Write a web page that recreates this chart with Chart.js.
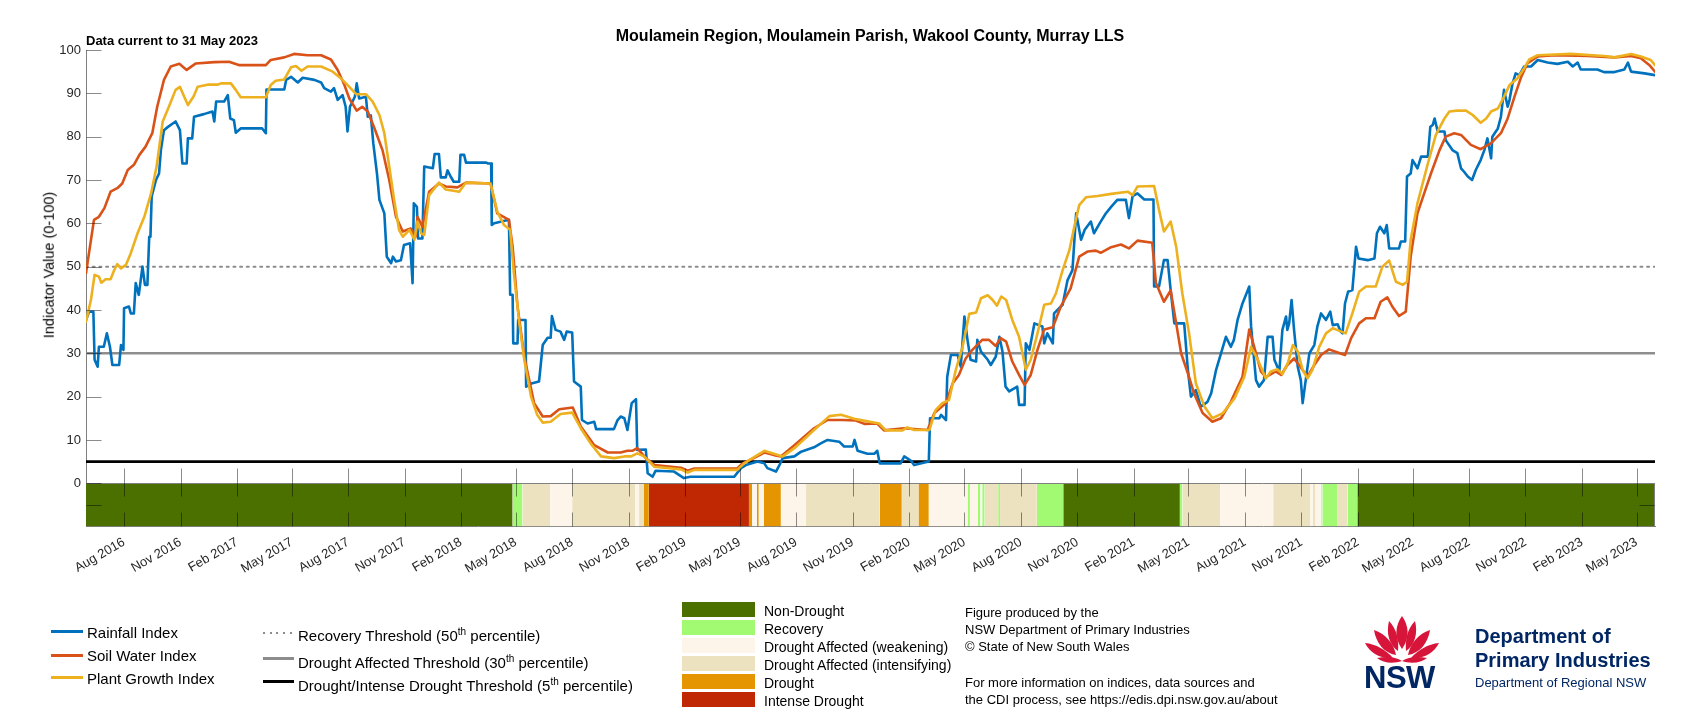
<!DOCTYPE html>
<html>
<head>
<meta charset="utf-8">
<title>Moulamein Region - Combined Drought Indicator</title>
<script src="https://cdn.jsdelivr.net/npm/chart.js@4.4.0/dist/chart.umd.min.js"></script>
<style>
  html, body { margin: 0; padding: 0; background: #fff; }
  #page { position: relative; width: 1707px; height: 720px; overflow: hidden;
          font-family: "Liberation Sans", Arial, Helvetica, sans-serif; color: #000; }
  #page canvas { position: absolute; left: 0; top: 0; }
  .t { position: absolute; white-space: nowrap; line-height: 1; }
  .key { position: absolute; height: 0; }
  .sw { position: absolute; left: 682px; width: 73px; height: 15px; }
  sup { font-size: 10px; vertical-align: 6px; line-height: 0; }
  .navy { color: #002664; }
</style>
</head>
<body>
<div id="page">
  <canvas id="cdi" width="1707" height="720"></canvas>

  <div class="t" style="left:870px; top:28px; font-size:16px; font-weight:bold; transform:translateX(-50%);">Moulamein Region, Moulamein Parish, Wakool County, Murray LLS</div>
  <div class="t" style="left:86px; top:33.5px; font-size:13px; font-weight:bold;">Data current to 31 May 2023</div>
  <div class="t" style="left:49px; top:265px; font-size:14.5px; transform:translate(-50%,-50%) rotate(-90deg);">Indicator Value (0-100)</div>

  <!-- index legend -->
  <div class="key" style="left:51px; top:630px; width:32px; border-top:3px solid #0072bd;"></div>
  <div class="key" style="left:51px; top:653.5px; width:32px; border-top:3px solid #d95319;"></div>
  <div class="key" style="left:51px; top:676px; width:32px; border-top:3px solid #edb120;"></div>
  <div class="t" style="left:87px; top:625px; font-size:15px;">Rainfall Index</div>
  <div class="t" style="left:87px; top:648.3px; font-size:15px;">Soil Water Index</div>
  <div class="t" style="left:87px; top:670.6px; font-size:15px;">Plant Growth Index</div>

  <!-- threshold legend -->
  <div class="key" style="left:263px; top:632px; width:31px; height:2px; background:repeating-linear-gradient(90deg,#8c8c8c 0 2px,transparent 2px 6.7px);"></div>
  <div class="key" style="left:263px; top:656.5px; width:31px; border-top:3px solid #8c8c8c;"></div>
  <div class="key" style="left:263px; top:679.5px; width:31px; border-top:3px solid #000;"></div>
  <div class="t" style="left:298px; top:628px; font-size:15px;">Recovery Threshold (50<sup>th</sup> percentile)</div>
  <div class="t" style="left:298px; top:654.6px; font-size:15px;">Drought Affected Threshold (30<sup>th</sup> percentile)</div>
  <div class="t" style="left:298px; top:678px; font-size:15px;">Drought/Intense Drought Threshold (5<sup>th</sup> percentile)</div>

  <!-- status legend (swatches filled from statusColors) -->
  <div id="statusKey"></div>

  <!-- notes -->
  <div class="t" style="left:965px; top:606px; font-size:13px;">Figure produced by the</div>
  <div class="t" style="left:965px; top:623px; font-size:13px;">NSW Department of Primary Industries</div>
  <div class="t" style="left:965px; top:640px; font-size:13px;">© State of New South Wales</div>
  <div class="t" style="left:965px; top:676px; font-size:13px;">For more information on indices, data sources and</div>
  <div class="t" style="left:965px; top:693px; font-size:13px;">the CDI process, see https://edis.dpi.nsw.gov.au/about</div>

  <!-- logo -->
  <svg style="position:absolute; left:1362px; top:612px;" width="80" height="52" viewBox="0 0 80 52">
    <g fill="#d7153a">
      <path d="M40 4 C47 14 48 26 40 37 C32 26 33 14 40 4 Z"/>
      <path d="M27 9 C35 17 37 29 36 39 C27 33 24 21 27 9 Z"/>
      <path d="M53 9 C45 17 43 29 44 39 C53 33 56 21 53 9 Z"/>
      <path d="M12 18 C24 22 32 32 34 43 C22 41 14 31 12 18 Z"/>
      <path d="M68 18 C56 22 48 32 46 43 C58 41 66 31 68 18 Z"/>
      <path d="M3 31 C14 32 24 38 31 46 C18 47 8 41 3 31 Z"/>
      <path d="M77 31 C66 32 56 38 49 46 C62 47 72 41 77 31 Z"/>
      <path d="M15 46 C25 44 34 45 40 49 C31 52 21 51 15 46 Z"/>
      <path d="M65 46 C55 44 46 45 40 49 C49 52 59 51 65 46 Z"/>
    </g>
  </svg>
  <div class="t navy" style="left:1364px; top:662px; font-size:31px; font-weight:bold; letter-spacing:-0.5px;">NSW</div>
  <div class="t navy" style="left:1475px; top:626.4px; font-size:20px; font-weight:bold;">Department of</div>
  <div class="t navy" style="left:1475px; top:650.4px; font-size:20px; font-weight:bold;">Primary Industries</div>
  <div class="t navy" style="left:1475px; top:675.7px; font-size:13px;">Department of Regional NSW</div>
</div>

<script>
// days are counted from 31 May 2016 (start of the plotted record)
const START = Date.UTC(2016, 4, 31);
const END_DAY = 2556; // 31 May 2023
const Y_MIN = -10;

const xTickLabels = [
  'Aug 2016', 'Nov 2016', 'Feb 2017', 'May 2017', 'Aug 2017', 'Nov 2017', 'Feb 2018',
  'May 2018', 'Aug 2018', 'Nov 2018', 'Feb 2019', 'May 2019', 'Aug 2019', 'Nov 2019',
  'Feb 2020', 'May 2020', 'Aug 2020', 'Nov 2020', 'Feb 2021', 'May 2021', 'Aug 2021',
  'Nov 2021', 'Feb 2022', 'May 2022', 'Aug 2022', 'Nov 2022', 'Feb 2023', 'May 2023'
];
const yTickValues = [0, 10, 20, 30, 40, 50, 60, 70, 80, 90, 100];

// [day, index value]
const rainfall = [
  [0,37.7],[5,39.6],[12,39.6],[14,28.5],[19,26.9],[21,31.5],[29,31.5],[34,34.6],[39,31.5],[43,27.3],
  [54,27.3],[57,31.9],[61,30.8],[62,40.4],[70,40.8],[73,39.2],[78,39.2],[81,46.2],[86,43.5],[92,50],
  [96,45.8],[100,45.8],[103,56.9],[105,56.9],[107,66.2],[114,70],[119,71.5],[122,76.9],[127,81.5],[133,82.2],
  [146,83.5],[153,81.5],[157,73.8],[164,73.8],[166,79.6],[173,79.6],[176,84.6],[192,85.2],[206,85.8],[209,83.5],
  [212,88.1],[225,88.1],[231,89.6],[235,84.2],[241,83.8],[244,80.9],[252,81.9],[287,81.9],[293,80.8],[294,90.9],
  [323,90.9],[326,93.1],[334,93.8],[345,92.5],[353,93.6],[372,93.1],[383,92.5],[388,91.2],[399,90.4],[404,91.2],
  [410,88.5],[418,89.6],[423,86.9],[426,81.2],[430,86.9],[438,89.2],[441,92.3],[445,88.8],[456,89.2],[459,84.6],
  [464,84.9],[468,78.5],[474,71.5],[478,65.4],[486,62.3],[490,52.3],[497,50.8],[500,52.3],[505,51.2],[513,51.5],
  [518,55],[528,55.4],[532,46.2],[534,64.6],[539,63.8],[541,56.5],[548,56.5],[551,73.1],[565,72.7],[568,76],
  [575,76],[578,70.6],[586,70.6],[589,72.2],[594,70.8],[599,69.6],[608,69.6],[610,75.8],[616,75.8],[619,74],
  [652,74],[655,73.8],[660,73.8],[661,59.6],[665,60],[689,60.8],[691,43.5],[695,43.5],[696,32.3],[703,32.3],
  [704,37.7],[716,37.7],[717,22.3],[727,23.1],[738,23.5],[740,26.2],[744,31.9],[752,33.6],[757,33.6],[759,38.6],
  [765,35.4],[773,35],[779,33.1],[783,35],[792,34.8],[795,23.5],[806,22.3],[808,14.6],[817,13.8],[828,14.2],
  [831,12.5],[860,12.5],[866,14.6],[871,15.4],[877,15],[882,12.3],[889,18.5],[896,19.4],[898,7.7],[912,7.8],
  [915,2.3],[923,1.5],[928,2.9],[958,2.7],[974,1.2],[985,1.5],[1056,1.5],[1067,3.5],[1075,4.2],[1094,5],
  [1105,4.6],[1110,3.5],[1124,2.7],[1129,4],[1135,5.8],[1154,6.2],[1165,7.3],[1186,8.3],[1197,9.2],[1208,10],
  [1227,9.6],[1235,8.5],[1249,8.5],[1252,10],[1257,7.5],[1273,6.8],[1284,6.8],[1289,7.5],[1293,4.6],[1327,4.6],
  [1333,6.2],[1344,5.2],[1349,4.2],[1373,5],[1375,15],[1390,15],[1393,15.8],[1401,14.6],[1403,24.6],[1409,29.6],
  [1420,29.6],[1425,26.9],[1431,38.5],[1436,33.1],[1441,28.5],[1450,28.1],[1452,33.1],[1458,30.4],[1469,28.5],[1474,27.3],
  [1482,29.2],[1488,33.8],[1493,30.4],[1498,22.3],[1504,21.2],[1517,22.3],[1520,18.1],[1529,18.1],[1531,32.3],[1537,30.8],
  [1545,36.9],[1558,36.2],[1561,32.3],[1566,34.6],[1575,32.3],[1577,39.2],[1591,41.2],[1599,46.9],[1607,49.2],[1613,62.3],
  [1621,56.2],[1627,58.5],[1637,60.4],[1642,57.7],[1653,60.4],[1661,62.2],[1670,63.8],[1680,65.4],[1694,65.4],[1699,61.2],
  [1705,66.3],[1713,66.9],[1724,65.5],[1739,65.5],[1740,45.4],[1748,45.4],[1756,51.5],[1762,51.5],[1767,44.6],[1773,36.9],
  [1789,36.9],[1795,26.2],[1800,20],[1808,21.5],[1816,17.7],[1827,18.8],[1833,20.8],[1841,26.2],[1849,30],[1857,33.8],
  [1865,31.5],[1870,33.1],[1876,37.7],[1884,41.5],[1895,45.4],[1898,36.2],[1906,23.8],[1911,22.3],[1919,23.8],[1925,33.8],
  [1933,33.8],[1936,28.5],[1944,25.8],[1949,35.4],[1955,38.5],[1957,35.4],[1960,36.9],[1964,42.3],[1968,35.4],[1974,26.9],
  [1979,23.8],[1982,18.5],[1987,23.8],[1993,30],[2001,31.9],[2006,36.2],[2012,39.2],[2020,37.7],[2027,39.6],[2031,36.5],
  [2039,36.7],[2044,35],[2047,34.6],[2051,41.5],[2056,44.2],[2063,44.6],[2069,54.6],[2073,51.9],[2088,51.5],[2099,51.9],
  [2103,57.7],[2108,59.2],[2115,57.7],[2119,59.6],[2123,54.2],[2139,54.2],[2142,55.8],[2149,55.8],[2152,70.8],[2158,71.5],
  [2161,74.6],[2169,72.7],[2175,75.4],[2186,75.4],[2190,82.3],[2194,82.7],[2197,84.2],[2202,81.2],[2213,81.2],[2215,79.2],
  [2226,76.9],[2234,76.2],[2240,72.7],[2245,71.9],[2251,70.8],[2258,70],[2264,72.3],[2272,74.6],[2278,76.9],[2283,79.6],
  [2289,75],[2291,80],[2300,81.9],[2305,84.6],[2310,90.8],[2316,86.9],[2319,88.5],[2324,92.3],[2329,94.6],[2335,94.2],
  [2343,96.2],[2354,96.2],[2365,97.7],[2381,97.1],[2397,96.8],[2414,97.3],[2422,96.2],[2430,97.1],[2435,95.5],[2462,95.5],
  [2473,94.9],[2490,94.9],[2506,95.5],[2512,97.1],[2517,95],[2539,94.6],[2556,94.2]
];

const soilWater = [
  [0,48.5],[13,60.8],[21,61.5],[30,63.5],[40,67.3],[51,68.1],[59,69.2],[68,72.3],[78,73.5],[87,75.8],
  [97,77.7],[108,80.8],[116,86.9],[127,93.1],[138,96.2],[152,96.8],[164,95.4],[179,96.9],[209,97.2],[233,97.3],
  [250,96.5],[293,96.5],[301,97.7],[323,98.3],[339,99.1],[361,98.8],[383,98.8],[399,97.8],[410,95.4],[421,91.9],
  [429,88.8],[441,86],[450,86.9],[459,85.8],[469,82.3],[483,76.9],[494,70],[505,61.5],[516,58.1],[529,58.8],
  [537,56.9],[540,61.5],[548,59.2],[559,67.3],[575,69.2],[586,68.5],[605,68.3],[619,69.4],[659,69.2],[670,62.3],
  [689,60.8],[695,54.6],[703,40.8],[714,29.2],[730,18.5],[744,15.4],[757,15.5],[771,17.1],[793,17.5],[806,13.1],
  [828,8.8],[850,7.1],[871,7.1],[882,7.5],[890,7.5],[898,8.1],[912,5.8],[926,4.2],[969,3.6],[980,2.9],
  [991,3.4],[1061,3.4],[1069,4.5],[1088,5.8],[1105,7.1],[1121,6.5],[1132,6.2],[1154,8.8],[1186,12.7],[1208,14.6],
  [1232,14.6],[1254,14.5],[1268,13.7],[1289,13.8],[1300,12.2],[1333,12.7],[1371,12.3],[1382,16.2],[1401,18.5],[1412,23.1],
  [1422,25],[1433,28.8],[1444,30.8],[1460,33.1],[1471,33.1],[1482,31.7],[1490,33.5],[1499,32.7],[1509,28.1],[1520,25],
  [1529,22.7],[1539,25],[1550,30.8],[1561,35.5],[1575,36],[1588,40.8],[1604,45],[1618,52.3],[1632,53.5],[1645,53.7],
  [1653,53.2],[1670,54.5],[1686,55.1],[1699,54.2],[1713,56],[1737,55.5],[1743,46.2],[1756,41.9],[1767,44.5],[1776,36.9],
  [1784,30],[1795,25.4],[1805,20.8],[1819,16.2],[1835,14.2],[1849,15],[1865,18.8],[1884,24.6],[1895,35.5],[1906,30],
  [1914,25.8],[1922,24.5],[1938,25.8],[1947,25],[1957,27.3],[1968,28.8],[1976,27.3],[1990,24.6],[2001,27.3],[2012,29.6],
  [2025,30.9],[2039,30.2],[2051,29.6],[2061,33.5],[2074,36.9],[2085,38.1],[2099,38.1],[2109,41.9],[2120,42.9],[2128,40.8],
  [2139,38.6],[2150,39.6],[2158,52.3],[2169,62.3],[2180,66.9],[2191,71.5],[2205,76.9],[2215,80],[2229,80.8],[2240,80.4],
  [2256,78.1],[2272,77.1],[2289,78.5],[2305,80.8],[2316,84.2],[2327,89.2],[2338,93.8],[2348,96.9],[2365,98.5],[2392,98.8],
  [2446,98.6],[2490,98.3],[2517,98.6],[2533,98.1],[2547,96.5],[2556,95]
];

const plantGrowth = [
  [0,37.3],[8,42.3],[14,48.1],[21,47.7],[25,46.3],[32,47.1],[40,47.1],[46,49.2],[51,50.6],[57,49.6],
  [65,50.4],[73,53.1],[84,57.7],[95,61.5],[106,66.9],[115,73.1],[125,83.5],[135,86.9],[146,90.8],[153,91.5],
  [160,89.2],[166,87.3],[175,89.2],[182,91.5],[198,92],[214,92],[220,92.3],[236,92.3],[244,90.8],[252,89.1],
  [293,89.1],[301,91.9],[309,92.9],[323,93.2],[334,96],[342,96.3],[351,95.2],[361,96.2],[383,96.2],[402,95],
  [415,93.5],[429,91.5],[440,89.8],[456,89.8],[467,88.1],[478,85],[486,80.8],[494,73.1],[502,65.4],[510,58.5],
  [516,56.9],[527,58.5],[535,56.2],[540,60.4],[546,57.7],[551,57.3],[559,66.5],[575,69.4],[586,67.8],[608,67.3],
  [619,69.4],[659,69.2],[670,62.7],[681,59.6],[691,58.5],[697,48.5],[706,36.9],[714,28.5],[725,20],[735,15.8],
  [744,14],[757,14.2],[773,16],[792,16.3],[806,12.7],[822,9.2],[839,6.2],[860,5.8],[877,6.2],[888,6.2],
  [898,6.9],[909,6.2],[926,3.8],[969,3.2],[980,2.5],[991,3.1],[1061,3.1],[1072,4.6],[1105,7.5],[1135,6.2],
  [1154,8.1],[1186,12.3],[1211,15.5],[1230,15.8],[1254,14.8],[1292,13.8],[1303,12.2],[1330,12.2],[1338,12.9],[1349,12.3],
  [1374,12.3],[1384,16.9],[1395,18.5],[1406,19.2],[1417,26.2],[1428,31.5],[1439,39.1],[1450,39.4],[1458,42.7],[1469,43.4],
  [1477,42.3],[1484,41],[1491,43.1],[1499,42.3],[1509,37.7],[1520,33.8],[1531,26.2],[1539,28.5],[1550,34.6],[1561,41.2],
  [1572,41.5],[1580,43.8],[1591,49.2],[1602,53.8],[1610,59.2],[1618,64.2],[1629,66],[1648,66.3],[1670,66.8],[1697,67.3],
  [1705,66.5],[1713,68.5],[1740,68.6],[1748,63.1],[1756,58.1],[1767,60.4],[1776,54.6],[1786,43.8],[1797,34.6],[1808,23.1],
  [1822,17.7],[1835,15],[1852,16.2],[1871,19.6],[1887,24.6],[1898,31.5],[1909,28.5],[1922,24.2],[1930,25.8],[1941,26.3],
  [1949,25.2],[1958,27.8],[1966,31.9],[1974,30.4],[1982,26.2],[1990,24.2],[1998,26.2],[2009,31.5],[2020,34.6],[2031,35.8],
  [2052,34.6],[2063,39.2],[2074,44.2],[2085,45.4],[2101,45.4],[2112,50],[2123,51.4],[2134,46.5],[2145,45.8],[2152,46.5],
  [2158,56.2],[2169,64.6],[2186,73.8],[2199,80.4],[2213,84.2],[2221,85.8],[2234,86],[2248,86],[2259,85],[2272,83.2],
  [2281,84.2],[2289,85.8],[2300,86.5],[2310,89.2],[2319,91.9],[2332,93.5],[2343,95.8],[2351,97.8],[2365,98.8],[2419,99.1],
  [2473,98.6],[2490,98.3],[2517,99.1],[2533,98.5],[2549,97.7],[2556,96.5]
];

const thresholds = [50, 30, 5];

// drought status categories and the day each run of a category starts
const statusNames = ['Non-Drought', 'Recovery', 'Drought Affected (weakening)',
                     'Drought Affected (intensifying)', 'Drought', 'Intense Drought'];
const statusColors = ['#4b7000', '#a1fa71', '#fdf5ea', '#ede2bf', '#e59500', '#bf2803'];
const statusStart = [0,695,711,756,792,895,901,909,917,1080,1085,1093,1096,1104,1132,1173,1293,1329,1356,1373,
                     1436,1440,1453,1457,1460,1464,1486,1489,1549,1592,1782,1786,1848,1934,1994,1998,2003,2011,2014,2038,
                     2055,2071];
const statusClass = [0,1,3,2,3,2,3,4,5,4,2,4,2,4,2,3,4,3,4,2,
                     1,2,1,2,1,3,1,3,1,0,1,3,2,3,2,3,2,3,1,3,
                     1,0];

const monthNames = ['Jan','Feb','Mar','Apr','May','Jun','Jul','Aug','Sep','Oct','Nov','Dec'];
function dayOf(label) {
  const [m, y] = label.split(' ');
  return Math.round((Date.UTC(+y, monthNames.indexOf(m), 1) - START) / 86400000);
}
const xTickDays = xTickLabels.map(dayOf);
const toXY = (arr) => arr.map(([d, v]) => ({ x: d, y: v }));

// status legend swatches
let keyHtml = '';
statusNames.forEach((name, i) => {
  const top = 602.3 + i * 17.9;
  keyHtml += `<div class="sw" style="top:${top}px; background:${statusColors[i]};"></div>` +
             `<div class="t" style="left:764px; top:${top + 1.8}px; font-size:14px;">${name}</div>`;
});
document.getElementById('statusKey').innerHTML = keyHtml;

let datasets = [];

datasets.push({ label: 'Plant Growth Index', data: toXY(plantGrowth), borderColor: '#edb120', borderWidth: 2.6, order: 0 });
datasets.push({ label: 'Soil Water Index', data: toXY(soilWater), borderColor: '#d95319', borderWidth: 2.6, order: 1 });
datasets.push({ label: 'Rainfall Index', data: toXY(rainfall), borderColor: '#0072bd', borderWidth: 2.6, order: 2 });

const thresholdStyle = [
  { borderColor: '#8c8c8c', borderWidth: 2, borderDash: [2, 4.7] },
  { borderColor: '#8e8e8e', borderWidth: 2.6 },
  { borderColor: '#000000', borderWidth: 2.8 }
];
thresholds.forEach((t, i) => {
  datasets.push(Object.assign({
    label: 'threshold ' + t,
    data: [{ x: 0, y: t }, { x: END_DAY, y: t }],
    order: 3 + i
  }, thresholdStyle[i]));
});

statusStart.forEach((s, i) => {
  const e = i + 1 < statusStart.length ? statusStart[i + 1] : END_DAY;
  datasets.push({
    label: statusNames[statusClass[i]],
    data: [{ x: s, y: 0 }, { x: e, y: 0 }],
    borderColor: 'rgba(0,0,0,0)',
    borderWidth: 1,
    backgroundColor: statusColors[statusClass[i]],
    fill: { value: Y_MIN },
    order: 20
  });
});

// MATLAB style inward tick marks and the status band frame
const axisDecor = {
  id: 'axisDecor',
  afterDatasetsDraw(chart) {
    const { ctx, chartArea: a, scales: { x, y } } = chart;
    const y0 = Math.round(y.getPixelForValue(0)) + 0.5;
    const yb = Math.round(y.getPixelForValue(Y_MIN)) - 0.5;
    const ym = Math.round(y.getPixelForValue(-5)) + 0.5;
    const left = Math.round(a.left) + 0.5;
    const right = Math.round(a.right) - 0.5;

    ctx.save();
    ctx.lineWidth = 1;
    ctx.strokeStyle = '#808080';
    ctx.beginPath();
    ctx.moveTo(left, y0); ctx.lineTo(right, y0);
    ctx.moveTo(right, y0); ctx.lineTo(right, yb);
    ctx.stroke();

    ctx.strokeStyle = 'rgba(0,0,0,0.45)';
    ctx.beginPath();
    yTickValues.forEach(v => {
      const py = Math.round(y.getPixelForValue(v)) + 0.5;
      ctx.moveTo(left, py); ctx.lineTo(left + 15, py);
    });
    ctx.moveTo(left, ym); ctx.lineTo(left + 15, ym);
    ctx.moveTo(right - 15, ym); ctx.lineTo(right, ym);
    xTickDays.forEach(d => {
      const px = Math.round(x.getPixelForValue(d)) + 0.5;
      ctx.moveTo(px, y0 - 15); ctx.lineTo(px, y0 + 13);
      ctx.moveTo(px, yb - 14); ctx.lineTo(px, yb);
    });
    ctx.stroke();
    ctx.restore();
  }
};

const tickFont = { family: '"Liberation Sans", Arial, sans-serif', size: 13 };

new Chart(document.getElementById('cdi'), {
  type: 'line',
  data: { datasets: datasets },
  options: {
    responsive: false,
    animation: false,
    events: [],
    parsing: false,
    layout: { padding: { left: 0, right: 52, top: 50, bottom: 0 } },
    elements: {
      point: { radius: 0 },
      line: { tension: 0, fill: false, borderCapStyle: 'round', borderJoinStyle: 'round' }
    },
    scales: {
      x: {
        type: 'linear',
        min: 0,
        max: END_DAY,
        afterBuildTicks: (scale) => { scale.ticks = xTickDays.map(v => ({ value: v })); },
        afterFit: (scale) => { scale.height = 720 - 526.6; },
        grid: { display: false, drawTicks: false },
        border: { display: true, color: '#808080', width: 1 },
        ticks: {
          autoSkip: false,
          maxRotation: 30,
          minRotation: 30,
          padding: 8,
          color: '#262626',
          font: tickFont,
          callback: (v, i) => xTickLabels[i]
        }
      },
      y: {
        type: 'linear',
        min: Y_MIN,
        max: 100,
        afterBuildTicks: (scale) => { scale.ticks = yTickValues.map(v => ({ value: v })); },
        afterFit: (scale) => { scale.width = 86; },
        grid: { display: false, drawTicks: false },
        border: { display: true, color: '#808080', width: 1 },
        ticks: { padding: 5, color: '#262626', font: tickFont }
      }
    },
    plugins: {
      legend: { display: false },
      tooltip: { enabled: false },
      title: { display: false }
    }
  },
  plugins: [axisDecor]
});
</script>
</body>
</html>
